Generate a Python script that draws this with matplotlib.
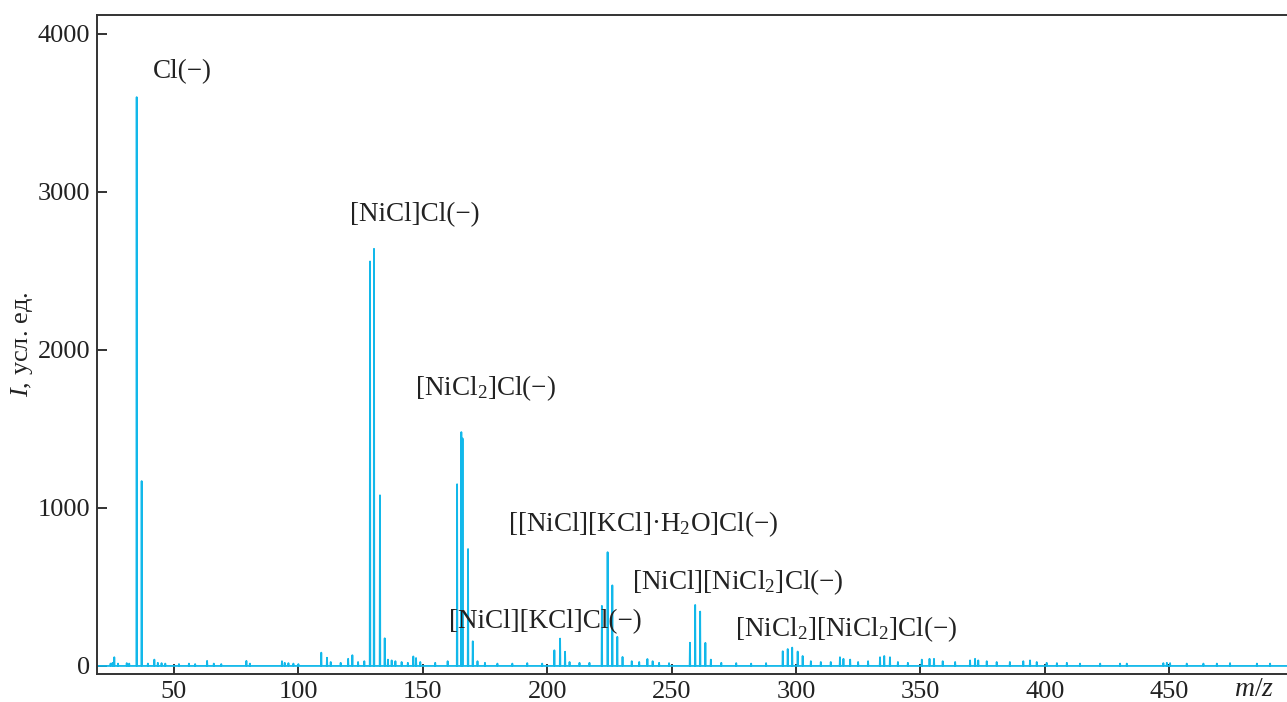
import numpy as np
import matplotlib
matplotlib.use('Agg')
import matplotlib.pyplot as plt

plt.rcParams['font.family'] = ['Liberation Serif', 'DejaVu Serif']
plt.rcParams['mathtext.fontset'] = 'custom'
plt.rcParams['mathtext.rm'] = 'Liberation Serif'
plt.rcParams['mathtext.it'] = 'Liberation Serif:italic'

# peak positions (m/z) and intensities (arb. units)
mz = [24.5, 25.3, 26.0, 27.5, 31.0, 32.0, 35.0, 37.0, 39.5, 42.1, 43.5, 45.0, 46.5,
      52.0, 56.0, 58.5, 63.3, 66.0, 69.0, 79.1, 80.5, 93.4, 94.5, 96.0, 98.0, 100.0,
      109.2, 111.5, 113.0, 117.0, 120.0, 121.7, 124.0, 126.5,
      128.8, 130.4, 132.8, 134.7, 136.0, 137.5, 139.0, 141.5, 144.0, 146.2, 147.3, 149.0,
      155.0, 160.0, 163.8, 165.5, 166.0, 168.2, 170.1, 172.0, 175.0, 180.0, 186.0, 192.0, 198.0,
      202.9, 205.2, 207.2, 209.0, 213.0, 217.0,
      222.0, 224.3, 226.2, 228.2, 230.3, 234.0, 237.0, 240.3, 242.4, 245.0, 249.0,
      257.4, 259.5, 261.5, 263.6, 265.8, 270.0, 276.0, 282.0, 288.0,
      294.7, 296.7, 298.5, 300.7, 302.7, 306.0, 310.0, 314.0,
      317.7, 319.1, 321.8, 325.0, 329.0, 333.8, 335.5, 337.8, 341.0, 345.0,
      350.6, 353.7, 355.5, 359.0, 364.0, 370.0, 372.0, 373.3, 376.7, 380.7, 386.0,
      391.4, 394.1, 396.8, 400.8, 404.9, 408.9, 414.2, 422.3, 430.3, 433.0,
      447.7, 449.1, 450.4, 457.1, 463.8, 469.2, 474.5, 485.3, 490.6]
intensity = [15, 20, 55, 15, 18, 15, 3600, 1170, 15, 40, 20, 18, 15,
             12, 15, 12, 32, 15, 12, 32, 15, 30, 20, 18, 15, 12,
             84, 52, 25, 20, 45, 68, 25, 30,
             2560, 2640, 1080, 175, 40, 35, 30, 25, 20, 60, 50, 25,
             20, 30, 1150, 1480, 1440, 740, 156, 30, 20, 15, 15, 18, 15,
             99, 173, 90, 25, 20, 20,
             380, 720, 510, 184, 57, 30, 25, 44, 30, 20, 18,
             147, 386, 344, 146, 40, 20, 18, 15, 18,
             93, 107, 116, 91, 63, 30, 25, 25,
             55, 45, 40, 25, 30, 55, 63, 55, 25, 20,
             40, 45, 45, 30, 25, 35, 45, 35, 30, 25, 25,
             30, 35, 25, 20, 18, 20, 15, 15, 15, 15,
             18, 20, 18, 15, 15, 15, 18, 15, 15]

labels = ['Cl(−)', '[NiCl]Cl(−)', '[NiCl$_2$]Cl(−)', '[[NiCl][KCl]·H$_2$O]Cl(−)',
          '[NiCl][KCl]Cl(−)', '[NiCl][NiCl$_2$]Cl(−)', '[NiCl$_2$][NiCl$_2$]Cl(−)']
label_x = [41.6, 120.8, 146.9, 184.3, 160.6, 234.1, 275.5]
label_y = [3760, 2855, 1760, 900, 280, 532, 234]

xmin, xmax = 19.05, 497.4

# build a stick profile: narrow triangle per peak on a zero baseline
half = 0.12
px, py = [xmin], [0.0]
for m, h in sorted(zip(mz, intensity)):
    px += [m - half, m, m + half]
    py += [0.0, h, 0.0]
px.append(xmax)
py.append(0.0)

fig = plt.figure(figsize=(12.87, 7.02), dpi=100)
ax = fig.add_axes([97 / 1287, 1 - 674 / 702, 1 - 97 / 1287, (674 - 15) / 702])

ax.plot(px, py, color='#12B8EA', linewidth=1.3)

for t, x, y in zip(labels, label_x, label_y):
    ax.text(x, y, t, fontsize=19.5, va='center', ha='left', color='#222222')

ax.set_xlim(xmin, xmax)
ax.set_ylim(-51, 4120)
ax.set_xticks([50, 100, 150, 200, 250, 300, 350, 400, 450])
ax.set_yticks([0, 1000, 2000, 3000, 4000])
ax.tick_params(direction='in', length=7, width=1.3, labelsize=19, colors='#222222')
ax.tick_params(axis='x', pad=5)
ax.tick_params(axis='y', pad=5)
for s in ['left', 'bottom', 'top']:
    ax.spines[s].set_linewidth(1.4)
    ax.spines[s].set_color('#333333')
ax.spines['right'].set_visible(False)

ax.set_ylabel('$I$, усл. ед.', fontsize=19, color='#222222', labelpad=2)
fig.text(1254 / 1287, 1 - 690 / 702, '$m/z$', fontsize=20, ha='center', va='center', color='#222222')

fig.savefig('out.png', dpi=100)
